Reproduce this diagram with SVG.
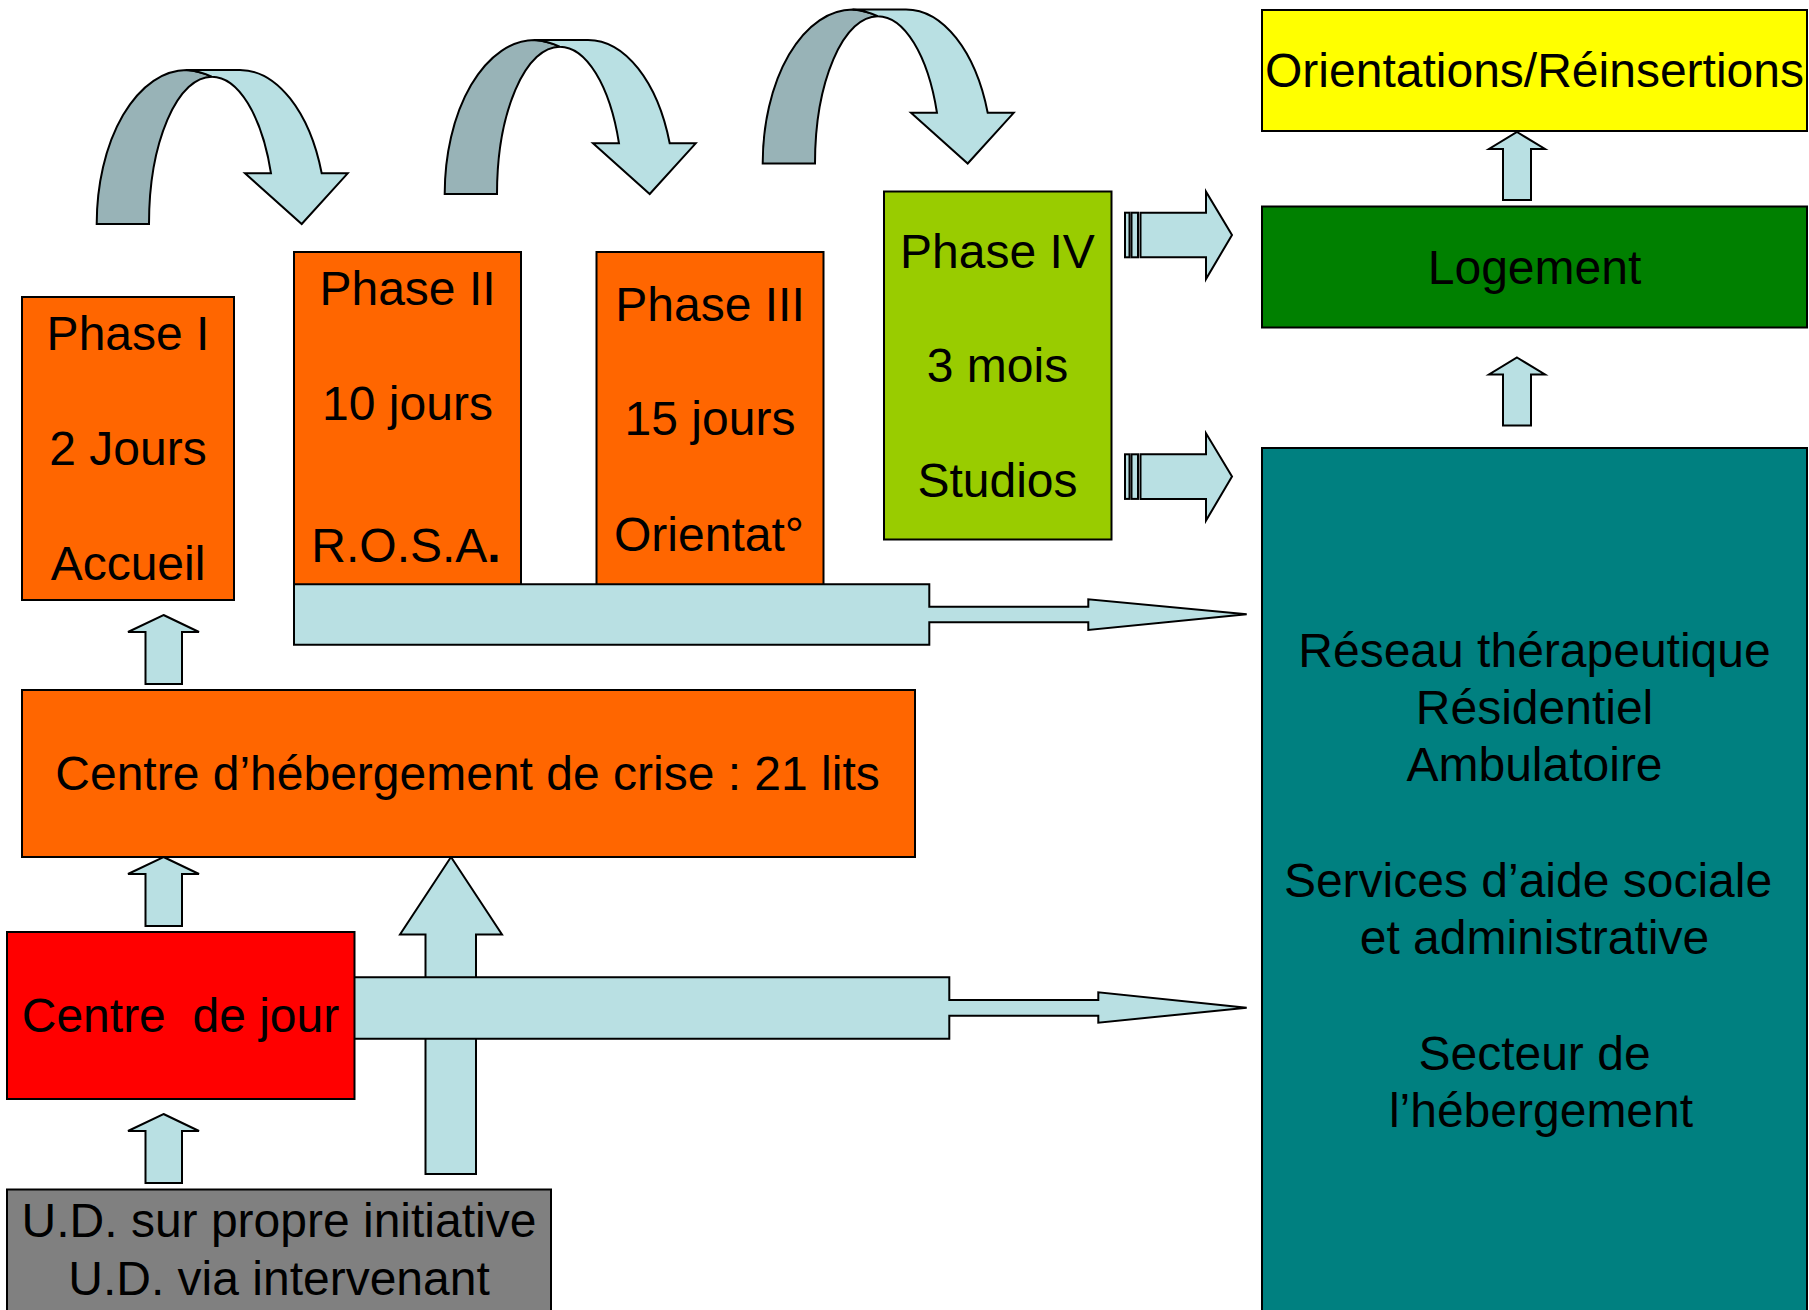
<svg xmlns="http://www.w3.org/2000/svg" xmlns:xlink="http://www.w3.org/1999/xlink" width="1809" height="1310" viewBox="0 0 1809 1310">
<style>
.box{stroke:#000;stroke-width:2}
.t{font-family:"Liberation Sans",Arial,sans-serif;font-size:48px;fill:#000;text-anchor:middle;white-space:pre}
.arr{fill:#B9E0E3;stroke:#000;stroke-width:2;stroke-linejoin:miter}
.dark{fill:#98B3B7;stroke:#000;stroke-width:2}
</style>
<defs>
<g id="curved">
<path class="dark" d="M96.7,224 A90,154 0 0 1 186.7,70 Q200,71 211.7,76.7 A62.7,147.3 0 0 0 149,224 Z"/>
<path class="arr" d="M186.7,70 L240,70 A86.6,154 0 0 1 321.7,173.3 L347.7,173.3 L301.7,224 L245,173.3 L271,173.3 A63.2,147.3 0 0 0 211.7,76.7 Q200,71 186.7,70 Z"/>
</g>
<path id="upSmallL" class="arr" d="M163.5,0 L199,17 L182,17 L182,69 L145.5,69 L145.5,17 L128,17 Z"/>
<path id="upSmallR" class="arr" d="M1517,0 L1545,17 L1531,17 L1531,68 L1503,68 L1503,17 L1489,17 Z"/>
<g id="stripeArrow">
<rect class="arr" x="1125" y="0" width="4.5" height="44.6"/>
<rect class="arr" x="1131.5" y="0" width="6.5" height="44.6"/>
<path class="arr" d="M1140.5,0 L1206,0 L1206,-21 L1232,22.3 L1206,66.3 L1206,44.6 L1140.5,44.6 Z"/>
</g>
</defs>

<g id="connectors">
<use xlink:href="#curved"/>
<use xlink:href="#curved" transform="translate(348,-30)"/>
<use xlink:href="#curved" transform="translate(666,-60.5)"/>
<use xlink:href="#upSmallL" transform="translate(0,615)"/>
<use xlink:href="#upSmallL" transform="translate(0,857)"/>
<use xlink:href="#upSmallL" transform="translate(0,1114)"/>
<use xlink:href="#upSmallR" transform="translate(0,132)"/>
<use xlink:href="#upSmallR" transform="translate(0,357.5)"/>
<use xlink:href="#stripeArrow" transform="translate(0,212.7)"/>
<use xlink:href="#stripeArrow" transform="translate(0,454.3)"/>
<path class="arr" d="M451,857 L502,934.5 L476,934.5 L476,1174 L425.5,1174 L425.5,934.5 L400,934.5 Z"/>
</g>

<g id="phase1">
<rect class="box" x="22" y="297" width="212" height="303" fill="#FF6600"/>
<text class="t" x="128" y="350">Phase I</text>
<text class="t" x="128" y="465">2 Jours</text>
<text class="t" x="128" y="580">Accueil</text>
</g>
<g id="phase2">
<rect class="box" x="294" y="252" width="227" height="333" fill="#FF6600"/>
<text class="t" x="407.5" y="305">Phase II</text>
<text class="t" x="407.5" y="420">10 jours</text>
<text class="t" x="406" y="562">R.O.S.A<tspan font-weight="bold">.</tspan></text>
</g>
<g id="phase3">
<rect class="box" x="596.5" y="252" width="227" height="333" fill="#FF6600"/>
<text class="t" x="710" y="321">Phase III</text>
<text class="t" x="710" y="435">15 jours</text>
<text class="t" x="709" y="551">Orientat°</text>
</g>
<g id="phase4">
<rect class="box" x="884" y="191.5" width="227.5" height="348" fill="#99CC00"/>
<text class="t" x="997.5" y="268">Phase IV</text>
<text class="t" x="997.5" y="382">3 mois</text>
<text class="t" x="997.5" y="497">Studios</text>
</g>

<g id="bar-phases">
<path class="arr" d="M294,584.3 L929.3,584.3 L929.3,606.7 L1088.3,606.7 L1088.3,599.3 L1246.7,614.3 L1088.3,630 L1088.3,622.3 L929.3,622.3 L929.3,644.7 L294,644.7 Z"/>
</g>

<g id="crise">
<rect class="box" x="22" y="690" width="893" height="167" fill="#FF6600"/>
<text class="t" x="467.5" y="790">Centre d’hébergement de crise : 21 lits</text>
</g>

<g id="bar-jour">
<path class="arr" d="M354,977.3 L949.3,977.3 L949.3,1000 L1098.3,1000 L1098.3,992.3 L1246.7,1007.7 L1098.3,1022.7 L1098.3,1015.7 L949.3,1015.7 L949.3,1038.7 L354,1038.7 Z"/>
</g>

<g id="jour">
<rect class="box" x="7" y="932" width="347.5" height="167" fill="#FF0000"/>
<text class="t" x="180.5" y="1032">Centre  de jour</text>
</g>

<g id="ud">
<rect class="box" x="7" y="1189.5" width="544" height="130" fill="#808080"/>
<text class="t" x="279" y="1237">U.D. sur propre initiative</text>
<text class="t" x="279" y="1295">U.D. via intervenant</text>
</g>

<g id="orientations">
<rect class="box" x="1262" y="10" width="545" height="121" fill="#FFFF00"/>
<text class="t" x="1534.5" y="87">Orientations/Réinsertions</text>
</g>
<g id="logement">
<rect class="box" x="1262" y="206.5" width="545" height="121" fill="#008000"/>
<text class="t" x="1534.5" y="284">Logement</text>
</g>
<g id="reseau">
<rect class="box" x="1262" y="448" width="545" height="872" fill="#008080"/>
<text class="t" x="1534.5" y="667">Réseau thérapeutique</text>
<text class="t" x="1534.5" y="724">Résidentiel</text>
<text class="t" x="1534.5" y="781">Ambulatoire</text>
<text class="t" x="1528" y="896.5">Services d’aide sociale</text>
<text class="t" x="1534.5" y="953.5">et administrative</text>
<text class="t" x="1534.5" y="1069.5">Secteur de</text>
<text class="t" x="1541" y="1126.5">l’hébergement</text>
</g>
</svg>
